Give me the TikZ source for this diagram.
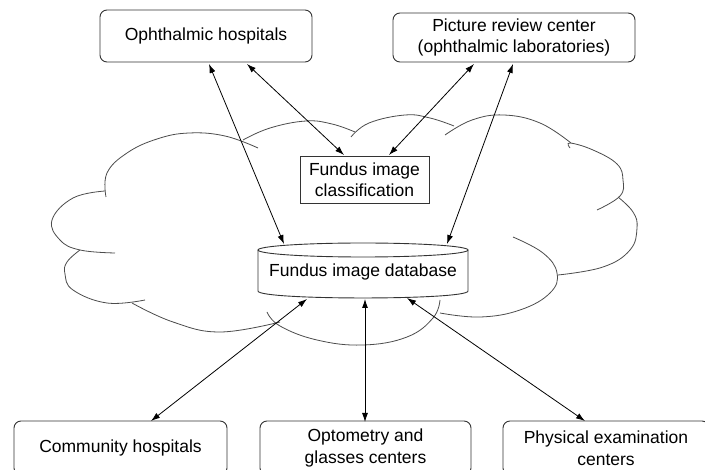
\documentclass[tikz,border=0pt]{standalone}
\usepackage{fontspec}
\setmainfont{Liberation Sans}
\usetikzlibrary{arrows.meta,calc}
\begin{document}
\begin{tikzpicture}[x=1pt,y=-1pt,
  txt/.style={align=center, font=\fontsize{17.5}{21.5}\selectfont, inner sep=0pt, text=black},
  box/.style={txt, draw=black!80, line width=0.9pt, rounded corners=7pt},
  sqbox/.style={txt, draw=black!80, line width=0.9pt},
  cloudline/.style={draw=black!70, line width=0.8pt, smooth, tension=0.7},
  link/.style={draw=black, line width=0.8pt, {Latex[length=9pt,width=6pt]}-{Latex[length=9pt,width=6pt]}}
]
\clip (0,0) rectangle (705,470);
\fill[white] (0,0) rectangle (705,470);

% cloud
\draw[cloudline] plot coordinates {(106,197) (107,173) (127,153) (157,139) (189,133) (225,136) (258,148)};
\draw[cloudline] plot coordinates {(243,140) (270,128) (306,121) (332,124) (355,132)};
\draw[cloudline] plot coordinates {(351,137) (369,123) (405,115) (430,118) (454,126)};
\draw[cloudline] plot coordinates {(445,135) (472,120) (504,115) (540,123) (571,143)};
\draw[cloudline] plot coordinates {(570,148) (570,143) (593,150) (617,164) (623,180) (620,196) (597,210)};
\draw[cloudline] plot coordinates {(618,197) (633,212) (637,228) (630,250) (603,267) (558,275)};
\draw[cloudline] plot coordinates {(513,237) (543,253) (557,273) (550,293) (520,310) (480,317) (440,313)};
\draw[cloudline] plot coordinates {(440,300) (433,318) (407,337) (363,345) (317,340) (280,326) (267,312)};
\draw[cloudline] plot coordinates {(280,322) (220,332) (173,322) (132,303)};
\draw[cloudline] plot coordinates {(80,250) (67,262) (65,274) (73,290) (107,303) (145,300)};
\draw[cloudline] plot coordinates {(105,191) (73,198) (52,220) (60,240) (80,250) (115,253)};

% nodes
\node[box, minimum width=212pt, minimum height=52pt] (oh) at (206,36) {Ophthalmic hospitals};
\node[box, minimum width=242pt, minimum height=49pt] (prc) at (514,37.5) {Picture review center\\(ophthalmic laboratories)};
\node[sqbox, minimum width=129pt, minimum height=47pt, fill=white] (cls) at (364.5,179.5) {Fundus image\\classification};
\draw[draw=black!80, line width=0.9pt, fill=white] (258,250) -- (258,291) .. controls (258,300.3) and (468,300.3) .. (468,291) -- (468,250);
\draw[draw=black!80, line width=0.9pt, fill=white] (363,250) ellipse [x radius=105pt, y radius=7pt];
\node[txt, minimum width=210pt, minimum height=56pt] (db) at (363,272) {Fundus image database};
\node[box, minimum width=213pt, minimum height=54pt] (comm) at (120.5,448) {Community hospitals};
\node[box, minimum width=211pt, minimum height=54pt] (opt) at (365.5,448) {Optometry and\\glasses centers};
\node[box, minimum width=206pt, minimum height=54pt] (phys) at (606,448) {Physical examination\\centers};

% connectors
\draw[link] ($(oh.center)+(3,28)$) -- ($(db.center)+(-79,-28)$);
\draw[link] ($(oh.center)+(41,28)$) -- ($(cls.center)+(-20.5,-24.5)$);
\draw[link] ($(prc.center)+(-40,26.5)$) -- ($(cls.center)+(24.5,-24.5)$);
\draw[link] ($(prc.center)+(-1,26.5)$) -- ($(db.center)+(84,-28)$);
\draw[link] ($(db.center)+(-56,27)$) -- ($(comm.center)+(30.5,-27)$);
\draw[link] ($(db.center)+(2,27)$) -- ($(opt.center)+(-0.5,-26)$);
\draw[link] ($(db.center)+(44,26)$) -- ($(phys.center)+(-21,-27)$);
\end{tikzpicture}
\end{document}
